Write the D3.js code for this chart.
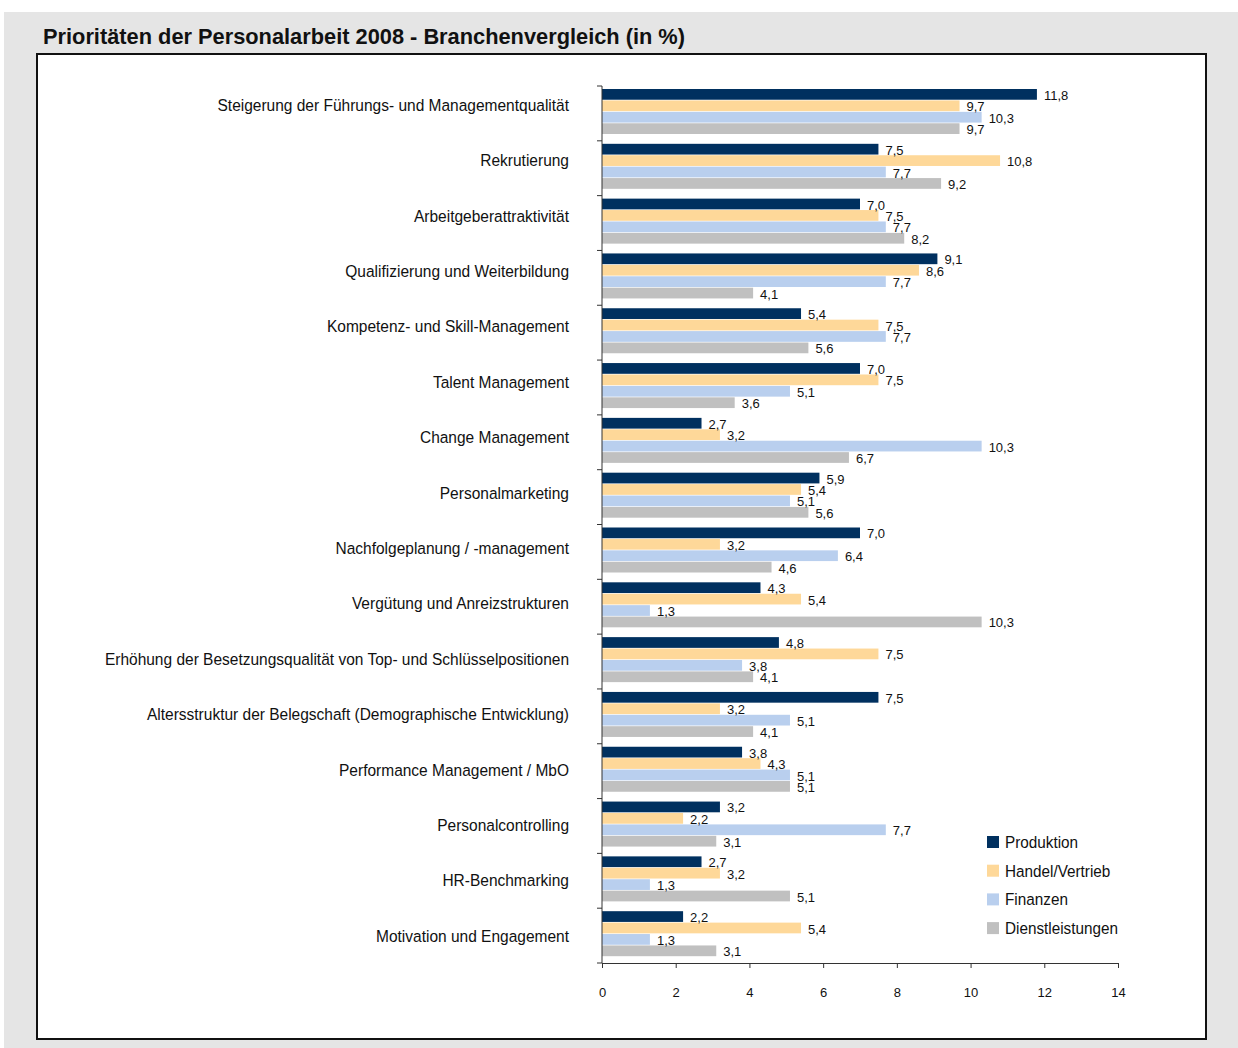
<!DOCTYPE html>
<html>
<head>
<meta charset="utf-8">
<script src="https://cdn.jsdelivr.net/npm/d3@7"></script>
<style>
  body { margin: 0; background: #fff; }
  text { fill: #111; }
</style>
</head>
<body>
<script>
// Categories (top to bottom)
const categories = [
  "Steigerung der Führungs- und Managementqualität",
  "Rekrutierung",
  "Arbeitgeberattraktivität",
  "Qualifizierung und Weiterbildung",
  "Kompetenz- und Skill-Management",
  "Talent Management",
  "Change Management",
  "Personalmarketing",
  "Nachfolgeplanung / -management",
  "Vergütung und Anreizstrukturen",
  "Erhöhung der Besetzungsqualität von Top- und Schlüsselpositionen",
  "Altersstruktur der Belegschaft (Demographische Entwicklung)",
  "Performance Management / MbO",
  "Personalcontrolling",
  "HR-Benchmarking",
  "Motivation und Engagement"
];

const seriesNames = ["Produktion", "Handel/Vertrieb", "Finanzen", "Dienstleistungen"];

const produktion      = [11.8, 7.5, 7.0, 9.1, 5.4, 7.0, 2.7, 5.9, 7.0, 4.3, 4.8, 7.5, 3.8, 3.2, 2.7, 2.2];
const handelVertrieb  = [9.7, 10.8, 7.5, 8.6, 7.5, 7.5, 3.2, 5.4, 3.2, 5.4, 7.5, 3.2, 4.3, 2.2, 3.2, 5.4];
const finanzen        = [10.3, 7.7, 7.7, 7.7, 7.7, 5.1, 10.3, 5.1, 6.4, 1.3, 3.8, 5.1, 5.1, 7.7, 1.3, 1.3];
const dienstleistungen = [9.7, 9.2, 8.2, 4.1, 5.6, 3.6, 6.7, 5.6, 4.6, 10.3, 4.1, 4.1, 5.1, 3.1, 5.1, 3.1];

const xTicks = [0, 2, 4, 6, 8, 10, 12, 14];

const seriesValues = [produktion, handelVertrieb, finanzen, dienstleistungen];
const colors = ["#00305f", "#fed899", "#b9cfee", "#c0c0c0"];

const data = categories.map((c, i) => ({
  category: c,
  values: seriesNames.map((s, j) => ({ series: s, value: seriesValues[j][i] }))
}));

const width = 1238, height = 1048;
const font = "'Liberation Sans', Arial, sans-serif";

const svg = d3.select("body").append("svg")
  .attr("width", width)
  .attr("height", height);

// outer gray frame
svg.append("rect")
  .attr("x", 4).attr("y", 12)
  .attr("width", width - 4).attr("height", height - 12)
  .attr("fill", "#e5e5e5");

// title
svg.append("text")
  .attr("x", 43).attr("y", 44)
  .attr("font-family", font)
  .attr("font-weight", "bold")
  .attr("font-size", 21.8)
  .text("Prioritäten der Personalarbeit 2008 - Branchenvergleich (in %)");

// white panel
svg.append("rect")
  .attr("x", 37).attr("y", 54)
  .attr("width", 1169).attr("height", 985)
  .attr("fill", "#fff")
  .attr("stroke", "#111")
  .attr("stroke-width", 2);

// Scales
const x = d3.scaleLinear().domain([0, 14]).range([602, 1118]);
const y = d3.scaleBand().domain(categories).range([86, 963]);
const yInner = d3.scaleBand().domain(seriesNames).range([3, 48]).paddingInner(0.06);
const color = d3.scaleOrdinal().domain(seriesNames).range(colors);
// category labels are spaced a bit wider than the bands in the original
const yLabel = d3.scalePoint().domain(categories).range([105, 936]);

// Bars
const groups = svg.append("g")
  .selectAll("g")
  .data(data)
  .join("g")
  .attr("transform", d => `translate(0,${y(d.category)})`);

groups.selectAll("rect")
  .data(d => d.values)
  .join("rect")
  .attr("x", x(0))
  .attr("y", d => yInner(d.series))
  .attr("width", d => x(d.value) - x(0))
  .attr("height", yInner.bandwidth())
  .attr("fill", d => color(d.series));

groups.selectAll("text")
  .data(d => d.values)
  .join("text")
  .attr("x", d => x(d.value) + 7)
  .attr("y", d => yInner(d.series) + yInner.bandwidth() / 2 + 1)
  .attr("dy", "0.35em")
  .attr("font-family", font)
  .attr("font-size", 13)
  .text(d => d3.format(".1f")(d.value).replace(".", ","));

// Y axis (line + ticks at band boundaries)
const yAxis = svg.append("g");
yAxis.append("line")
  .attr("x1", x(0)).attr("x2", x(0))
  .attr("y1", 86).attr("y2", 963)
  .attr("stroke", "#333");
yAxis.selectAll("line.tick")
  .data(categories.map(c => y(c)).concat([963]))
  .join("line")
  .attr("class", "tick")
  .attr("x1", x(0) - 5).attr("x2", x(0))
  .attr("y1", d => d).attr("y2", d => d)
  .attr("stroke", "#333");

// category labels (slightly condensed like the original font)
svg.append("g")
  .selectAll("text")
  .data(categories)
  .join("text")
  .attr("transform", d => `translate(569,${yLabel(d)}) scale(0.94,1)`)
  .attr("dy", "0.35em")
  .attr("text-anchor", "end")
  .attr("font-family", font)
  .attr("font-size", 16.5)
  .text(d => d);

// X axis
const xAxis = svg.append("g")
  .attr("transform", "translate(0,963)")
  .call(d3.axisBottom(x).tickValues(xTicks).tickSize(5).tickSizeOuter(0).tickPadding(20));
xAxis.select(".domain").attr("stroke", "#333");
xAxis.selectAll(".tick line").attr("stroke", "#333");
xAxis.selectAll(".tick text")
  .attr("font-family", font)
  .attr("font-size", 13)
  .attr("fill", "#111");

// Legend
const legend = svg.append("g")
  .attr("transform", "translate(987,836)")
  .selectAll("g")
  .data(seriesNames)
  .join("g")
  .attr("transform", (d, i) => `translate(0,${i * 28.7})`);

legend.append("rect")
  .attr("width", 12)
  .attr("height", 12)
  .attr("fill", d => color(d));

legend.append("text")
  .attr("transform", "translate(18,6) scale(0.9,1)")
  .attr("dy", "0.35em")
  .attr("font-family", font)
  .attr("font-size", 17)
  .text(d => d);
</script>
</body>
</html>
